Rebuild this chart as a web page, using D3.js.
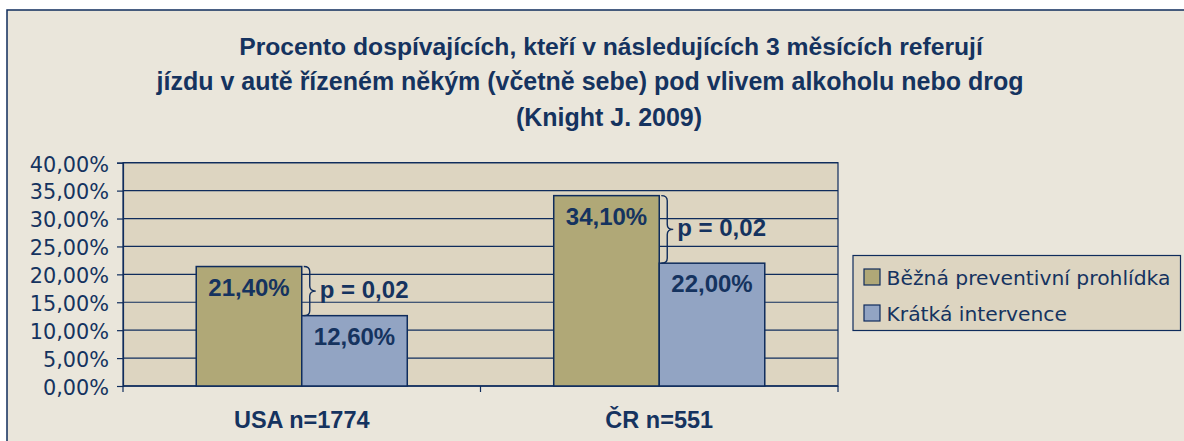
<!DOCTYPE html>
<html>
<head>
<meta charset="utf-8">
<script src="https://cdn.jsdelivr.net/npm/d3@7"></script>
<style>
  body { margin: 0; background: #fff; }
  svg { display: block; }
</style>
</head>
<body>
<script>
  // Data
  const categories = ['USA n=1774', 'ČR n=551'];
  const seriesNames = ['Běžná preventivní prohlídka', 'Krátká intervence'];
  const routineValues = [21.4, 34.1];
  const briefValues = [12.6, 22.0];
  const pLabels = ['p = 0,02', 'p = 0,02'];
  const yTicks = [0, 5, 10, 15, 20, 25, 30, 35, 40];
  const titleLines = [
    'Procento dospívajících, kteří v následujících 3 měsících referují',
    'jízdu v autě řízeném někým (včetně sebe) pod vlivem alkoholu nebo drog',
    '(Knight J. 2009)'
  ];

  const width = 1184;
  const height = 441;
  const plot = { left: 123, right: 838, top: 162.7, bottom: 386 };

  const navy = '#0f2c5c';
  const textColor = '#15335f';
  const colors = ['#b0a877', '#92a4c3'];
  const boldFont = '"Liberation Sans", Arial, sans-serif';
  const regFont = '"DejaVu Sans", Verdana, sans-serif';

  const fmt = v => v.toFixed(2).replace('.', ',') + '%';

  const svg = d3.select('body')
    .append('svg')
    .attr('width', width)
    .attr('height', height);

  // outer frame
  svg.append('rect')
    .attr('x', 7).attr('y', 10)
    .attr('width', 1300).attr('height', 600)
    .attr('fill', '#eae6db')
    .attr('stroke', navy)
    .attr('stroke-width', 1.5);

  // title
  const titleX = [611, 590, 609];
  svg.append('g')
    .selectAll('text')
    .data(titleLines)
    .enter()
    .append('text')
    .attr('x', (d, i) => titleX[i])
    .attr('y', (d, i) => 54.5 + i * 35.5)
    .attr('text-anchor', 'middle')
    .style('font-family', boldFont)
    .style('font-weight', 'bold')
    .style('font-size', (d, i) => (i === 0 ? '24.7px' : '25px'))
    .attr('fill', textColor)
    .text(d => d);

  // scales
  const x0 = d3.scaleBand()
    .domain(categories)
    .range([plot.left, plot.right]);

  const x1 = d3.scaleBand()
    .domain(seriesNames)
    .range([0, x0.bandwidth()])
    .paddingInner(0)
    .paddingOuter(0.694);

  const y = d3.scaleLinear()
    .domain([0, 40])
    .range([plot.bottom, plot.top]);

  // plot area
  svg.append('rect')
    .attr('x', plot.left).attr('y', plot.top)
    .attr('width', plot.right - plot.left)
    .attr('height', plot.bottom - plot.top)
    .attr('fill', '#ddd5c1')
    .attr('stroke', navy)
    .attr('stroke-width', 1.2);

  // gridlines
  svg.append('g')
    .selectAll('line')
    .data(yTicks)
    .enter()
    .append('line')
    .attr('x1', plot.left).attr('x2', plot.right)
    .attr('y1', d => y(d)).attr('y2', d => y(d))
    .attr('stroke', navy)
    .attr('stroke-width', 1.2);

  // y axis
  const yAxis = svg.append('g')
    .attr('transform', `translate(${plot.left},0)`)
    .call(d3.axisLeft(y).tickValues(yTicks).tickSize(6).tickPadding(8).tickFormat(fmt));
  yAxis.selectAll('path, line').attr('stroke', navy).attr('stroke-width', 1.2);
  yAxis.selectAll('text')
    .style('font-family', regFont)
    .style('font-size', '20.8px')
    .attr('fill', textColor)
    .attr('dy', '0.4em');

  // x axis line with category boundary ticks
  const xAxis = svg.append('g');
  xAxis.append('line')
    .attr('x1', plot.left).attr('x2', plot.right)
    .attr('y1', plot.bottom).attr('y2', plot.bottom)
    .attr('stroke', navy).attr('stroke-width', 1.2);
  xAxis.selectAll('line.tick')
    .data(categories.map(c => x0(c)).concat([x0(categories[categories.length - 1]) + x0.bandwidth()]))
    .enter()
    .append('line')
    .attr('class', 'tick')
    .attr('x1', d => d).attr('x2', d => d)
    .attr('y1', plot.bottom).attr('y2', plot.bottom + 6)
    .attr('stroke', navy).attr('stroke-width', 1.2);
  xAxis.selectAll('text')
    .data(categories)
    .enter()
    .append('text')
    .attr('x', d => x0(d) + x0.bandwidth() / 2)
    .attr('y', 427.7)
    .attr('text-anchor', 'middle')
    .style('font-family', boldFont)
    .style('font-weight', 'bold')
    .style('font-size', '23.5px')
    .attr('fill', textColor)
    .text(d => d);

  // bars
  const rows = categories.map((c, i) => ({
    cat: c,
    vals: [routineValues[i], briefValues[i]],
    p: pLabels[i]
  }));

  const groups = svg.append('g')
    .selectAll('g')
    .data(rows)
    .enter()
    .append('g')
    .attr('transform', d => `translate(${x0(d.cat)},0)`);

  const bars = groups.selectAll('g.bar')
    .data(d => d.vals.map((v, j) => ({ key: seriesNames[j], v, j })))
    .enter()
    .append('g')
    .attr('class', 'bar');

  bars.append('rect')
    .attr('x', d => x1(d.key))
    .attr('y', d => y(d.v))
    .attr('width', x1.bandwidth())
    .attr('height', d => y(0) - y(d.v))
    .attr('fill', d => colors[d.j])
    .attr('stroke', navy)
    .attr('stroke-width', 1.5);

  bars.append('text')
    .attr('x', d => x1(d.key) + x1.bandwidth() / 2)
    .attr('y', d => y(d.v) + 29)
    .attr('text-anchor', 'middle')
    .style('font-family', boldFont)
    .style('font-weight', 'bold')
    .style('font-size', '24px')
    .attr('fill', textColor)
    .text(d => fmt(d.v));

  // significance braces
  groups.each(function (d) {
    const g = d3.select(this);
    const edge = x1(seriesNames[0]) + x1.bandwidth();
    const top = y(d.vals[0]);
    const bot = y(d.vals[1]);
    const mid = (top + bot) / 2;
    const bx = edge + 2;
    const w = 12;
    const r = 5;
    const path = d3.path();
    path.moveTo(bx, top);
    path.quadraticCurveTo(bx + w / 2, top, bx + w / 2, top + r);
    path.lineTo(bx + w / 2, mid - r);
    path.quadraticCurveTo(bx + w / 2, mid, bx + w, mid);
    path.quadraticCurveTo(bx + w / 2, mid, bx + w / 2, mid + r);
    path.lineTo(bx + w / 2, bot - r);
    path.quadraticCurveTo(bx + w / 2, bot, bx, bot);
    g.append('path')
      .attr('d', path.toString())
      .attr('fill', 'none')
      .attr('stroke', navy)
      .attr('stroke-width', 1.4);
    g.append('text')
      .attr('x', edge + 18)
      .attr('y', mid + 7)
      .style('font-family', boldFont)
      .style('font-weight', 'bold')
      .style('font-size', '24px')
      .attr('fill', textColor)
      .text(d.p);
  });

  // legend
  const leg = svg.append('g')
    .attr('transform', 'translate(853,255.5)');
  leg.append('rect')
    .attr('width', 327.5)
    .attr('height', 75)
    .attr('fill', '#ddd5c1')
    .attr('stroke', navy)
    .attr('stroke-width', 1.2);
  const items = leg.selectAll('g')
    .data(seriesNames)
    .enter()
    .append('g')
    .attr('transform', (d, i) => `translate(11,${13.5 + i * 36})`);
  items.append('rect')
    .attr('width', 16)
    .attr('height', 16)
    .attr('fill', (d, i) => colors[i])
    .attr('stroke', navy)
    .attr('stroke-width', 1.2);
  items.append('text')
    .attr('x', 22.5)
    .attr('y', 16)
    .style('font-family', regFont)
    .style('font-size', '20.3px')
    .attr('fill', textColor)
    .text(d => d);
</script>
</body>
</html>
